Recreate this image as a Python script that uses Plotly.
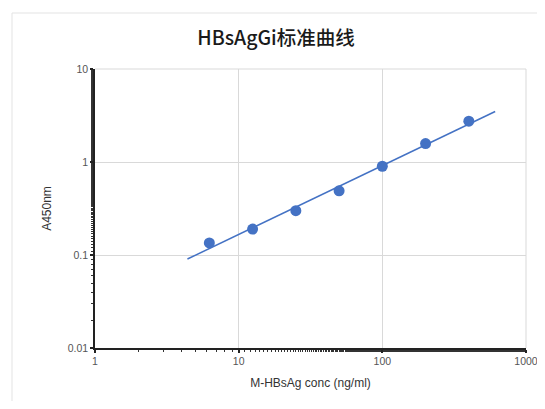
import numpy as np
import plotly.graph_objects as go

conc = [6.25, 12.5, 25, 50, 100, 200, 400]
a450 = [0.135, 0.19, 0.30, 0.49, 0.90, 1.58, 2.75]
x_ticks = [1, 10, 100, 1000]
x_tick_labels = ["1", "10", "100", "1000"]
y_ticks = [0.01, 0.1, 1, 10]
y_tick_labels = ["0.01", "0.1", "1", "10"]
trend_x_range = [4.4, 610]

# power-law trend line fitted to the data (Excel-style power trendline)
slope, intercept = np.polyfit(np.log10(conc), np.log10(a450), 1)
tx = np.array(trend_x_range)
ty = 10 ** (intercept + slope * np.log10(tx))

blue = "#4472C4"
fig = go.Figure()
fig.add_trace(go.Scatter(x=tx, y=ty, mode="lines",
                         line=dict(color=blue, width=1.5), hoverinfo="skip",
                         showlegend=False))
fig.add_trace(go.Scatter(x=conc, y=a450, mode="markers",
                         marker=dict(color=blue, size=11), showlegend=False))

# page body has an 8px margin; figure sized to fit the 545x409 window exactly
W, H = 529, 393
L, R, T, B = 87, 11, 61, 53
pw, ph = W - L - R, H - T - B

axis_font = dict(family="Liberation Sans, Arial, sans-serif", size=10.5, color="#555")
fig.update_layout(
    width=W, height=H,
    margin=dict(l=L, r=R, t=T, b=B, autoexpand=False),
    paper_bgcolor="white", plot_bgcolor="white",
    title=dict(text="HBsAgGi标准曲线", x=(276 - 8) / W, xanchor="center",
               y=1 - (38 - 8) / H, yanchor="middle",
               font=dict(family="Noto Sans CJK SC, sans-serif", size=19.5, weight=500,
                         color="#1a1a1a")),
    xaxis=dict(type="log", range=[0, 3], tickvals=x_ticks, ticktext=x_tick_labels,
               ticklabeloverflow="allow", automargin=False,
               showgrid=True, gridcolor="#d9d9d9", gridwidth=1,
               showline=True, linecolor="#222", linewidth=1.5, mirror=False,
               ticks="outside", ticklen=3, tickwidth=1.5, tickcolor="#222",
               minor=dict(ticks="outside", ticklen=2, tickwidth=1, tickcolor="#333",
                          showgrid=False),
               tickfont=axis_font, zeroline=False,
               title=dict(text="M-HBsAg conc (ng/ml)", standoff=12,
                          font=dict(family="Liberation Sans, Arial, sans-serif", size=12, color="#333"))),
    yaxis=dict(type="log", range=[-2, 1], tickvals=y_ticks, ticktext=y_tick_labels,
               automargin=False,
               showgrid=True, gridcolor="#d9d9d9", gridwidth=1,
               showline=True, linecolor="#222", linewidth=1.5,
               ticks="outside", ticklen=3, tickwidth=1.5, tickcolor="#222",
               minor=dict(ticks="outside", ticklen=2, tickwidth=1, tickcolor="#333",
                          showgrid=False),
               tickfont=axis_font, zeroline=False,
               title=dict(text="A450nm", standoff=14,
                          font=dict(family="Liberation Sans, Arial, sans-serif", size=12, color="#333"))),
    shapes=[
        dict(type="line", xref="paper", yref="paper", x0=0, x1=1, y0=1, y1=1,
             line=dict(color="#d9d9d9", width=1)),
        dict(type="line", xref="paper", yref="paper", x0=1, x1=1, y0=0, y1=1,
             line=dict(color="#d9d9d9", width=1)),
        dict(type="rect", xref="paper", yref="paper",
             x0=(4 - L) / pw, x1=(W + 20 - L) / pw,
             y0=(H - B - (H + 20)) / ph, y1=(H - B - 5) / ph,
             line=dict(color="#e3e3e3", width=1), layer="below"),
    ],
)
fig.write_html("out.html", config={"displayModeBar": False})
